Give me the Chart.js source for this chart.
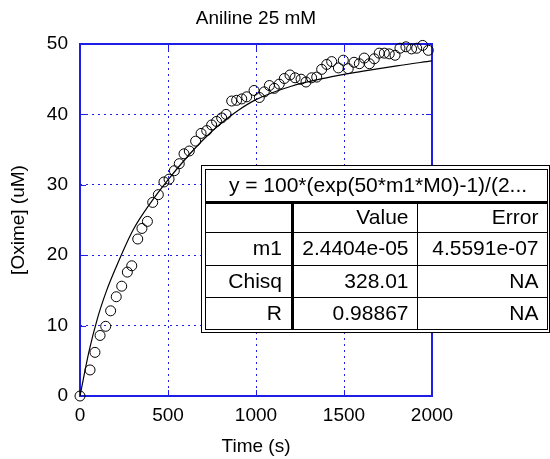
<!DOCTYPE html>
<html>
<head>
<meta charset="utf-8">
<script src="https://cdn.jsdelivr.net/npm/chart.js@4"></script>
<style>
  html, body { margin: 0; padding: 0; background: #fff; }
  canvas { display: block; }
</style>
</head>
<body>
<canvas id="myChart" width="550" height="459"></canvas>
<script>
// measured points
const timeS = [0, 57, 85, 114, 146, 174, 206, 237, 269, 294, 328, 352, 383, 413, 445, 477, 506, 536,
  564, 591, 621, 657, 688, 720, 748, 776, 805, 830, 862, 890, 919, 947, 989, 1019, 1047, 1076, 1104,
  1132, 1161, 1193, 1222, 1256, 1284, 1316, 1345, 1373, 1402, 1430, 1468, 1496, 1524, 1557, 1587,
  1615, 1644, 1672, 1700, 1729, 1757, 1790, 1818, 1852, 1884, 1913, 1947, 1979];
const oximeUM = [0, 3.7, 6.2, 8.6, 9.9, 12.1, 14.1, 15.6, 17.6, 18.5, 22.3, 23.8, 24.8, 27.5, 28.6, 30.4, 30.8, 32.0,
  33.0, 34.4, 34.8, 36.2, 37.3, 37.7, 38.5, 39.0, 39.5, 40.0, 41.9, 42.0, 42.2, 42.5, 43.4, 42.4, 43.2, 44.1, 43.7,
  44.3, 45.1, 45.6, 45.2, 45.0, 44.6, 45.2, 45.3, 46.4, 47.1, 47.5, 46.6, 47.7, 46.5, 47.4, 47.2,
  48.0, 47.2, 47.9, 48.7, 48.7, 48.6, 48.4, 49.4, 49.6, 49.3, 49.4, 49.8, 49.1];

// fitted curve
const fitTime = [0, 50, 100, 150, 200, 300, 400, 500, 600, 700, 800, 900, 1000, 1200, 1400, 1600, 1800, 2000];
const fitOxime = [0, 6.2, 11.1, 14.9, 18.0, 23.5, 27.4, 30.7, 33.7, 36.4, 38.7, 40.6, 42.1, 44.0, 45.2, 46.1, 46.9, 47.6];

const xTicks = [0, 500, 1000, 1500, 2000];
const yTicks = [0, 10, 20, 30, 40, 50];

const fitTitle = "y = 100*(exp(50*m1*M0)-1)/(2...";
const tableHeader = ["", "Value", "Error"];
const tableRows = [
  ["m1", "2.4404e-05", "4.5591e-07"],
  ["Chisq", "328.01", "NA"],
  ["R", "0.98867", "NA"],
];

const FONT = "'Liberation Sans', Arial, sans-serif";
const BLUE = "rgb(30, 30, 230)";

const framePlugin = {
  id: "frame",
  beforeDatasetsDraw(chart) {
    const { ctx, chartArea: a, scales } = chart;
    ctx.save();
    ctx.strokeStyle = BLUE;
    ctx.lineWidth = 1;
    // small inward ticks
    ctx.beginPath();
    xTicks.forEach((v) => {
      const px = Math.round(scales.x.getPixelForValue(v)) + 0.5;
      ctx.moveTo(px, a.bottom); ctx.lineTo(px, a.bottom - 6);
      ctx.moveTo(px, a.top); ctx.lineTo(px, a.top + 6);
    });
    yTicks.forEach((v) => {
      const py = Math.round(scales.y.getPixelForValue(v)) + 0.5;
      ctx.moveTo(a.left, py); ctx.lineTo(a.left + 6, py);
      ctx.moveTo(a.right, py); ctx.lineTo(a.right - 6, py);
    });
    ctx.stroke();
    ctx.lineWidth = 2;
    ctx.strokeRect(a.left, a.top, a.right - a.left, a.bottom - a.top);
    ctx.restore();
  },
};

const fitTablePlugin = {
  id: "fitTable",
  afterDraw(chart) {
    const c = chart.ctx;
    c.save();
    c.fillStyle = "#fff";
    c.fillRect(201, 165, 349, 168);
    c.strokeStyle = "#000";
    c.lineWidth = 1;
    c.strokeRect(201.5, 165.5, 348, 167);
    c.strokeRect(205.5, 169.5, 342, 160);
    c.fillStyle = "#000";
    // thick lines
    c.fillRect(206, 201, 341, 3);
    c.fillRect(291, 202, 3, 128);
    // thin lines
    c.beginPath();
    [232.5, 265.5, 297.5].forEach((y) => { c.moveTo(206, y); c.lineTo(547, y); });
    c.moveTo(417.5, 202); c.lineTo(417.5, 330);
    c.stroke();

    c.font = "21px " + FONT;
    c.textBaseline = "middle";
    c.textAlign = "center";
    c.fillText(fitTitle, 378, 186);
    c.textAlign = "right";
    const colRight = [282, 408.5, 538.5];
    const rowY = [218, 249.5, 282, 314];
    [tableHeader, ...tableRows].forEach((row, r) => {
      row.forEach((txt, k) => c.fillText(txt, colRight[k], rowY[r]));
    });
    c.restore();
  },
};

const ctx = document.getElementById("myChart");
new Chart(ctx, {
  type: "scatter",
  data: {
    datasets: [
      {
        label: "data",
        data: timeS.map((t, i) => ({ x: t, y: oximeUM[i] })),
        pointStyle: "circle",
        pointRadius: 5,
        pointBorderColor: "#000",
        pointBackgroundColor: "rgba(0,0,0,0)",
        pointBorderWidth: 1,
        showLine: false,
        clip: false,
      },
      {
        label: "fit",
        data: fitTime.map((t, i) => ({ x: t, y: fitOxime[i] })),
        showLine: true,
        borderColor: "#000",
        borderWidth: 1.2,
        pointRadius: 0,
        cubicInterpolationMode: "monotone",
        fill: false,
      },
    ],
  },
  options: {
    responsive: false,
    animation: false,
    devicePixelRatio: 1,
    layout: { padding: { left: 0, right: 118, top: 0, bottom: 0 } },
    plugins: {
      legend: { display: false },
      tooltip: { enabled: false },
      title: {
        display: true,
        fullSize: false,
        text: "Aniline 25 mM",
        color: "#000",
        font: { family: FONT, size: 19, weight: "normal" },
        padding: { top: 7, bottom: 14.2 },
      },
    },
    scales: {
      x: {
        type: "linear",
        min: 0,
        max: 2000,
        afterBuildTicks: (s) => { s.ticks = xTicks.map((v) => ({ value: v })); },
        afterFit: (s) => { s.height = 63; },
        grid: { color: BLUE, lineWidth: 1, drawTicks: false },
        border: { display: false, dash: [2, 4] },
        ticks: { color: "#000", font: { family: FONT, size: 19 }, padding: 8, maxRotation: 0, callback: (v) => String(v) },
        title: { display: true, text: "Time (s)", color: "#000", font: { family: FONT, size: 19 }, padding: { top: 0, bottom: 1 } },
      },
      y: {
        type: "linear",
        min: 0,
        max: 50,
        afterBuildTicks: (s) => { s.ticks = yTicks.map((v) => ({ value: v })); },
        afterFit: (s) => { s.width = 80; },
        grid: { color: BLUE, lineWidth: 1, drawTicks: false },
        border: { display: false, dash: [2, 4] },
        ticks: { color: "#000", font: { family: FONT, size: 19 }, padding: 12, callback: (v) => String(v) },
        title: { display: true, text: "[Oxime] (uM)", color: "#000", font: { family: FONT, size: 19 }, padding: { top: 7, bottom: 0 } },
      },
    },
  },
  plugins: [framePlugin, fitTablePlugin],
});
</script>
</body>
</html>
